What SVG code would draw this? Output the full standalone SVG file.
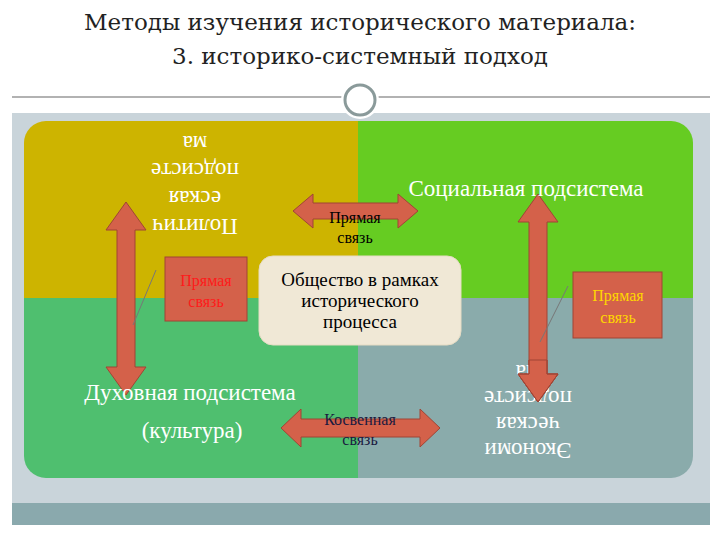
<svg xmlns="http://www.w3.org/2000/svg" width="720" height="540" viewBox="0 0 720 540">
<style>
text{font-family:"Liberation Serif","DejaVu Serif",serif}
.t{font-family:"DejaVu Serif",serif;font-size:23px;fill:#222;text-anchor:middle}
.w{fill:#fff;font-size:23px}
.arr{fill:#d4614a;stroke:#a04535;stroke-width:1}
.lbl{font-size:16px;text-anchor:middle}
.c{font-size:19px;text-anchor:middle}
</style>
<rect width="720" height="540" fill="#fff"/>
<text class="t" x="360" y="30">Методы изучения исторического материала:</text>
<text class="t" x="360" y="64">3. историко-системный подход</text>
<line x1="12" y1="97" x2="710" y2="97" stroke="#999" stroke-width="1.5"/>
<rect x="12" y="113" width="698" height="412" fill="#c9d4da"/>
<rect x="12" y="503" width="698" height="22" fill="#8aa9ad"/>
<circle cx="360" cy="100" r="19" fill="#fff"/>
<circle cx="360" cy="100" r="15" fill="none" stroke="#8a9a9a" stroke-width="3"/>
<defs><clipPath id="c"><rect x="24" y="121" width="669" height="357" rx="22"/></clipPath></defs>
<g id="quadrants" clip-path="url(#c)">
<rect x="24" y="121" width="334" height="177" fill="#cdb400"/>
<rect x="358" y="121" width="335" height="177" fill="#66cc22"/>
<rect x="24" y="298" width="334" height="180" fill="#4fbf6f"/>
<rect x="358" y="298" width="335" height="180" fill="#8aabab"/>
</g>
<g id="connectors">
<polygon class="arr" points="126,202 146,230 135,230 135,367 146,367 126,395 106,367 117,367 117,230 106,230"/>
<polygon class="arr" points="538,194 558,222 547,222 547,374 558,374 538,402 518,374 529,374 529,222 518,222"/>
<polygon class="arr" points="293,211 313,194 313,203 398,203 398,194 418,211 398,228 398,219 313,219 313,228"/>
<polygon class="arr" points="281,428 301,409 301,419 420,419 420,409 440,428 420,447 420,437 301,437 301,447"/>
<line x1="156" y1="270" x2="133" y2="325" stroke="#777" stroke-width="1"/>
<line x1="568" y1="286" x2="540" y2="342" stroke="#777" stroke-width="1"/>
</g>
<g id="polit" class="w" text-anchor="middle" dominant-baseline="central">
<text x="195" y="226" transform="rotate(180 195 226)">Политич</text>
<text x="195" y="198" transform="rotate(180 195 198)">еская</text>
<text x="195" y="170" transform="rotate(180 195 170)">подсисте</text>
<text x="195" y="143" transform="rotate(180 195 143)">ма</text>
</g>
<g id="social"><text class="w" x="526" y="196" text-anchor="middle">Социальная подсистема</text></g>
<g id="spirit" class="w" text-anchor="middle">
<text x="190" y="400">Духовная подсистема</text>
<text x="192" y="438">(культура)</text>
</g>
<g id="econ" class="w" text-anchor="middle" dominant-baseline="central">
<text x="528" y="450" transform="rotate(180 528 450)">Экономи</text>
<text x="528" y="424" transform="rotate(180 528 424)">ческая</text>
<text x="528" y="398" transform="rotate(180 528 398)">подсисте</text>
<text x="528" y="372" transform="rotate(180 528 372)">ма</text>
</g>
<polygon class="arr" points="529,360 547,360 547,374 558,374 538,402 518,374 529,374" stroke="none"/>
<polyline points="529,360 529,374 518,374 538,402 558,374 547,374 547,360" fill="none" stroke="#a04535"/>
<g id="center">
<rect x="259" y="256" width="202" height="89" rx="14" fill="#f0e8d6" stroke="#e6dcc4"/>
<text class="c" x="360" y="286">Общество в рамках</text>
<text class="c" x="360" y="307">исторического</text>
<text class="c" x="360" y="328">процесса</text>
</g>
<g id="lbl-top"><text class="lbl" x="355" y="223">Прямая</text><text class="lbl" x="355" y="243">связь</text></g>
<g id="lbl-left">
<rect x="165" y="257" width="82" height="64" fill="#d4614a" stroke="#a04535"/>
<text class="lbl" x="206" y="286" fill="#ff1a1a">Прямая</text><text class="lbl" x="206" y="307" fill="#ff1a1a">связь</text>
</g>
<g id="lbl-right">
<rect x="573" y="272" width="89" height="66" fill="#d4614a" stroke="#a04535"/>
<text class="lbl" x="618" y="301" fill="#ffd700">Прямая</text><text class="lbl" x="618" y="323" fill="#ffd700">связь</text>
</g>
<g id="lbl-bottom"><text class="lbl" x="360" y="425" fill="#1a1a40">Косвенная</text><text class="lbl" x="360" y="445" fill="#1a1a40">связь</text></g>
</svg>
